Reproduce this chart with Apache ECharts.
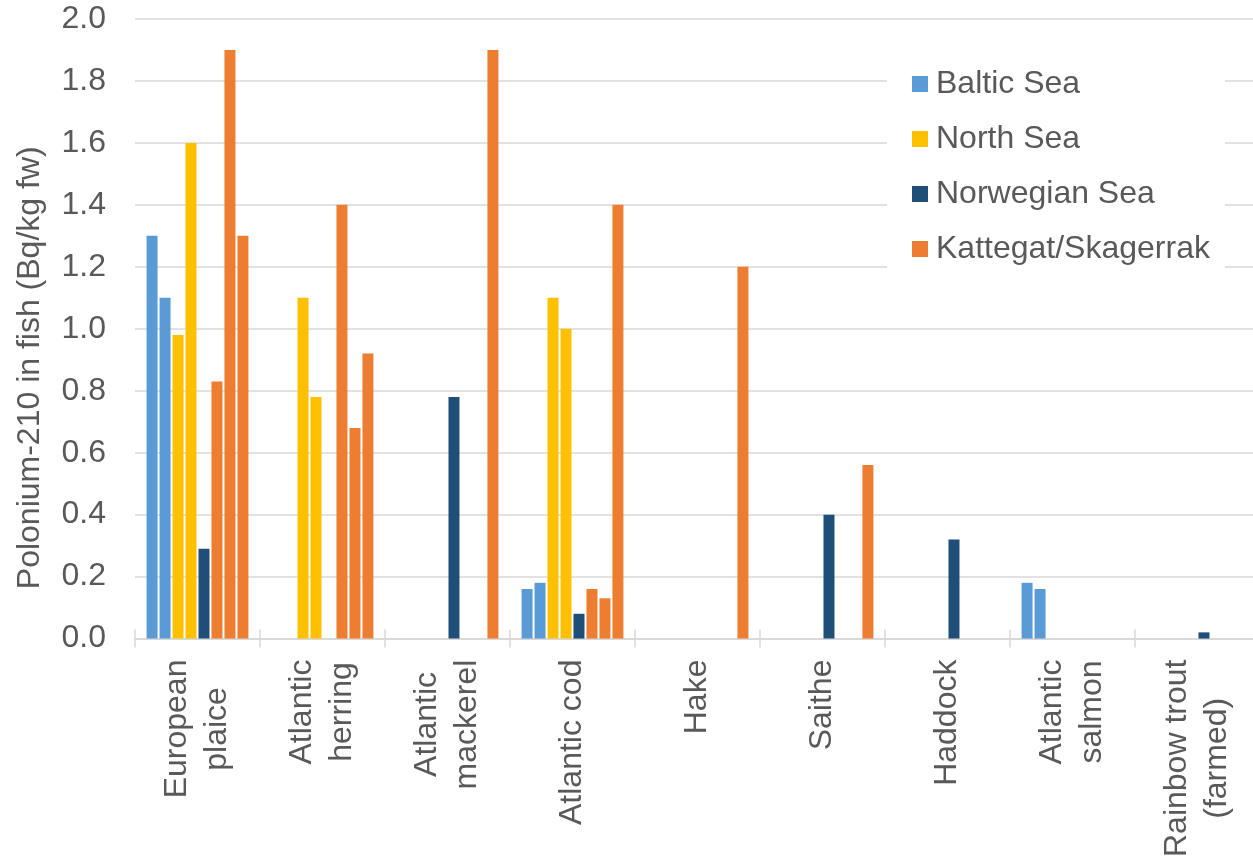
<!DOCTYPE html>
<html>
<head>
<meta charset="utf-8">
<script src="https://cdn.jsdelivr.net/npm/echarts@6/dist/echarts.min.js"></script>
<style>
html,body{margin:0;padding:0;background:#fff;overflow:hidden;}
#chart{width:1260px;height:860px;}
</style>
</head>
<body>
<div id="chart"></div>
<script>
var categories = ['European\nplaice', 'Atlantic\nherring', 'Atlantic\nmackerel', 'Atlantic cod', 'Hake', 'Saithe', 'Haddock', 'Atlantic\nsalmon', 'Rainbow trout\n(farmed)'];
var legendNames = ['Baltic Sea', 'North Sea', 'Norwegian Sea', 'Kattegat/Skagerrak'];
var colors = ['#5B9BD5', '#FFC000', '#1F4E79', '#ED7D31'];
var baltic1 = [1.3, null, null, 0.16, null, null, null, 0.18, null];
var baltic2 = [1.1, null, null, 0.18, null, null, null, 0.16, null];
var north1 = [0.98, 1.1, null, 1.1, null, null, null, null, null];
var north2 = [1.6, 0.78, null, 1.0, null, null, null, null, null];
var norwegian = [0.29, null, 0.78, 0.08, null, 0.40, 0.32, null, 0.02];
var katt1 = [0.83, 1.4, null, 0.16, null, null, null, null, null];
var katt2 = [1.9, 0.68, null, 0.13, null, null, null, null, null];
var katt3 = [1.3, 0.92, 1.9, 1.4, 1.2, 0.56, null, null, null];
var yTicks = { min: 0, max: 2.0, interval: 0.2 };

var FONT = "'Liberation Sans', Arial, sans-serif";
var FS = 32;
var TXT = '#595959';
var GRID = '#D9D9D9';

// Split each category label into its two lines; each line is drawn by its own axis,
// centred on the other line as in the original.
var ctx = document.createElement('canvas').getContext('2d');
ctx.font = FS + "px 'Liberation Sans', Arial, sans-serif";
var line1Data = [], line2Data = [], line1Text = [], line2Text = [];
categories.forEach(function (c) {
  var lines = c.split('\n');
  var w = lines.map(function (l) { return ctx.measureText(l).width; });
  var maxW = Math.max.apply(null, w);
  line1Text.push(lines[0]);
  line2Text.push(lines[1] || '');
  if (lines.length > 1) {
    line1Data.push({ value: c, textStyle: { verticalAlign: 'bottom', padding: [0, (maxW - w[0]) / 2, 0, 0] } });
    line2Data.push({ value: c, textStyle: { verticalAlign: 'top', padding: [0, (maxW - w[1]) / 2, 0, 0] } });
  } else {
    line1Data.push({ value: c });
    line2Data.push({ value: c });
  }
});

var seriesDefs = [
  [legendNames[0], colors[0], baltic1],
  [legendNames[0], colors[0], baltic2],
  [legendNames[1], colors[1], north1],
  [legendNames[1], colors[1], north2],
  [legendNames[2], colors[2], norwegian],
  [legendNames[3], colors[3], katt1],
  [legendNames[3], colors[3], katt2],
  [legendNames[3], colors[3], katt3]
];

var series = seriesDefs.map(function (d) {
  return {
    type: 'bar',
    name: d[0],
    data: d[2],
    xAxisIndex: 0,
    barWidth: 11,
    barGap: '18%',
    itemStyle: { color: d[1] },
    emphasis: { disabled: true }
  };
});

var labelBase = {
  rotate: 90,
  margin: 21,
  interval: 0,
  fontFamily: FONT,
  fontSize: FS,
  lineHeight: 40,
  color: TXT
};

var chart = echarts.init(document.getElementById('chart'), null, { renderer: 'canvas' });
chart.setOption({
  animation: false,
  textStyle: { fontFamily: FONT },
  grid: { left: 135, top: 19, right: 0, height: 621, containLabel: false },
  legend: {
    data: legendNames,
    orient: 'vertical',
    left: 887,
    top: 61,
    icon: 'rect',
    itemWidth: 16,
    itemHeight: 16,
    itemGap: 19,
    backgroundColor: '#fff',
    padding: [5, 15, 10, 25],
    selectedMode: false,
    textStyle: { fontFamily: FONT, fontSize: FS, color: TXT, lineHeight: 36, padding: [0, 0, 0, 3] }
  },
  xAxis: [{
    type: 'category',
    data: line1Data,
    position: 'bottom',
    axisLine: { show: true, lineStyle: { color: GRID, width: 2 } },
    axisTick: { show: true, length: 9, lineStyle: { color: GRID, width: 1.5 } },
    axisLabel: Object.assign({}, labelBase, {
      formatter: function (v, i) { return line1Text[i]; }
    })
  }, {
    type: 'category',
    data: line2Data,
    position: 'bottom',
    gridIndex: 0,
    axisLine: { show: false },
    axisTick: { show: true, inside: true, length: 9, lineStyle: { color: GRID, width: 1.5 } },
    axisLabel: Object.assign({}, labelBase, {
      formatter: function (v, i) { return line2Text[i]; }
    }),
    splitLine: { show: false }
  }],
  yAxis: {
    type: 'value',
    min: yTicks.min,
    max: yTicks.max,
    interval: yTicks.interval,
    name: 'Polonium-210 in fish (Bq/kg fw)',
    nameLocation: 'middle',
    nameRotate: 90,
    nameGap: 89,
    nameTextStyle: { fontFamily: FONT, fontSize: FS, color: TXT, lineHeight: 32, padding: [0, 78, 0, 0] },
    axisLine: { show: false },
    axisTick: { show: false },
    axisLabel: {
      margin: 29,
      fontFamily: FONT,
      fontSize: FS,
      color: TXT,
      formatter: function (v) { return v.toFixed(1); }
    },
    splitLine: { show: true, lineStyle: { color: GRID, width: 1.5 } }
  },
  series: series
});
</script>
</body>
</html>
